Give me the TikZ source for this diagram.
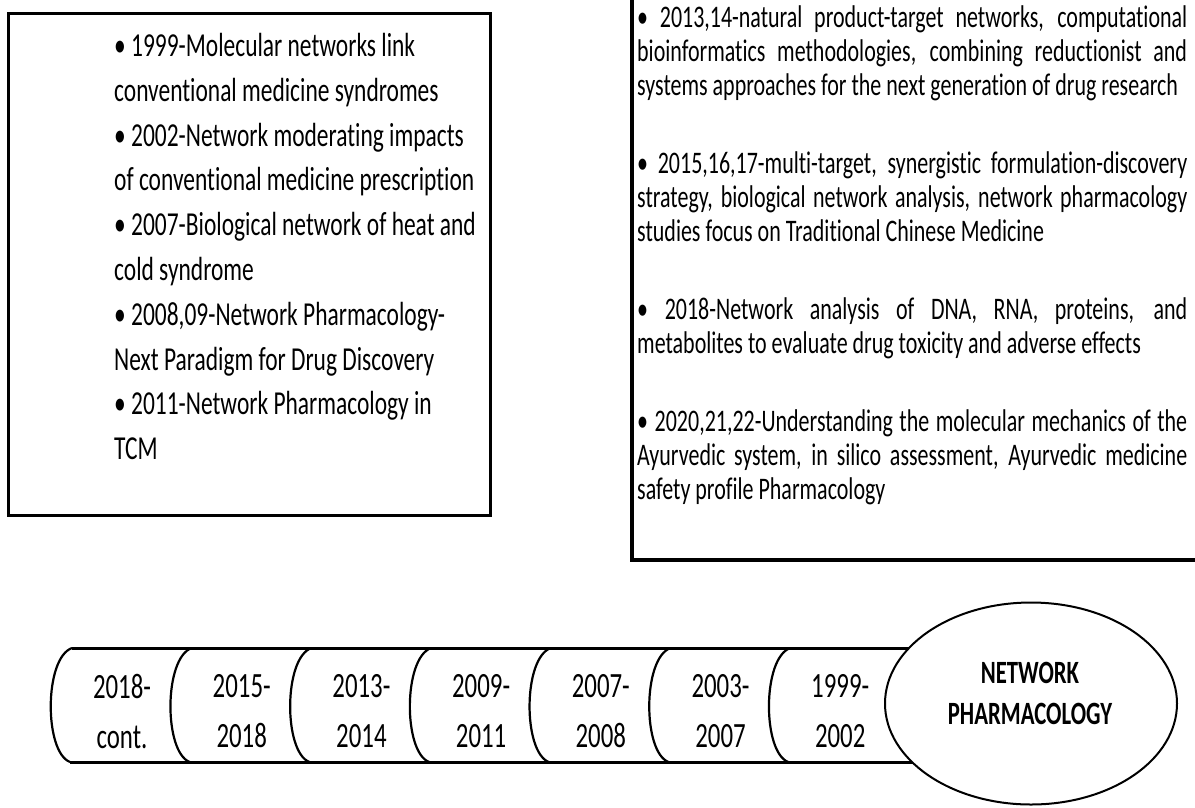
\documentclass[tikz,border=0pt]{standalone}
\usepackage{fontspec}
\setmainfont{Carlito}
\newfontfamily\narrowfont[FakeStretch=0.7, Ligatures=NoCommon]{Carlito}
\usepackage{tikz}
\usetikzlibrary{positioning}
\newcommand{\earlyfont}{\narrowfont\fontsize{33.5}{44.8}\selectfont}
\newcommand{\recentfont}{\narrowfont\fontsize{31.4}{34}\selectfont}
\newcommand{\yearfont}{\narrowfont\fontsize{35.5}{50}\selectfont}
\newcommand{\hubfont}{\narrowfont\bfseries\fontsize{32.5}{41}\selectfont}
\tikzstyle{frame} = [draw, line width=3pt]
\tikzstyle{era} = [align=center, inner sep=0pt, anchor=north, font=\yearfont]
\tikzstyle{divider} = [line width=2.2pt]

\begin{document}
\begin{tikzpicture}[x=1pt, y=-1pt]
			\useasboundingbox (0,0) rectangle (1195,807);
			\clip (0,0) rectangle (1195,807);
			% boxes
			\draw[frame] (8,13) rectangle (490,515);
			\node[anchor=north west, inner sep=0pt, align=left, font=\earlyfont] (early) at (114,33) {%
				\textbullet\ 1999-Molecular networks link\\
				conventional medicine syndromes\\
				\textbullet\ 2002-Network moderating impacts\\
				of conventional medicine prescription\\
				\textbullet\ 2007-Biological network of heat and\\
				cold syndrome\\
				\textbullet\ 2008,09-Network Pharmacology-\\
				Next Paradigm for Drug Discovery\\
				\textbullet\ 2011-Network Pharmacology in\\
				TCM};
			\draw[frame, line width=3.5pt] (632,-20) rectangle (1240,560);
			\node[anchor=north west, inner sep=0pt, text width=550pt, align=justify, font=\recentfont] (recent) at (637,5) {%
				\parindent=0pt \parskip=44pt \tolerance=10000 \hyphenpenalty=10000 \exhyphenpenalty=10000
				\textbullet\ 2013,14-natural product-target networks, computational \linebreak
				bioinformatics methodologies, combining reductionist and \linebreak
				systems approaches for the next generation of drug research\par
				\textbullet\ 2015,16,17-multi-target, synergistic formulation-discovery \linebreak
				strategy, biological network analysis, network pharmacology \linebreak
				studies focus on Traditional Chinese Medicine\par
				\textbullet\ 2018-Network analysis of DNA, RNA, proteins, and \linebreak
				metabolites to evaluate drug toxicity and adverse effects\par
				\textbullet\ 2020,21,22-Understanding the molecular mechanics of the \linebreak
				Ayurvedic system, in silico assessment, Ayurvedic medicine \linebreak
				safety profile Pharmacology};
			% timeline
			\draw[line width=3pt] (72,648) -- (980,648);
			\draw[line width=3pt] (70,762) -- (980,762);
			\foreach \i in {0,...,6}
				\draw[divider] ({72+119.7*\i},648) .. controls ({44+119.7*\i},658) and ({44+119.7*\i},752) .. ({70+119.7*\i},762);
			\foreach \lbl [count=\i from 0] in {{2018-\\cont.},{2015-\\2018},{2013-\\2014},{2009-\\2011},{2007-\\2008},{2003-\\2007},{1999-\\2002}}
				\node[era] (era\i) at ({122+119.7*\i},674) {\lbl};
			\draw[fill=white, line width=2pt] (1031,703.5) ellipse [x radius=146, y radius=101];
			\node[anchor=north, inner sep=0pt, align=center, font=\hubfont] (hub) at (1030,662) {NETWORK\\PHARMACOLOGY};
		\end{tikzpicture}
\end{document}
